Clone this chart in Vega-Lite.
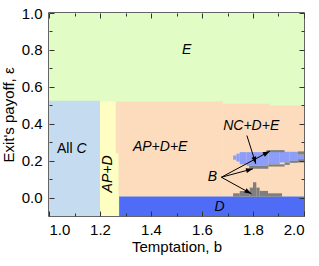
{
  "$schema": "https://vega.github.io/schema/vega-lite/v6.json",
  "width": 255,
  "height": 203,
  "autosize": {"type": "none"},
  "padding": {"left": 49, "top": 13, "right": 15, "bottom": 50},
  "background": "white",
  "config": {
    "view": {"stroke": "#333333", "strokeWidth": 1.5},
    "font": "Liberation Sans",
    "axis": {
      "labelFont": "Liberation Sans", "titleFont": "Liberation Sans",
      "labelFontSize": 15, "titleFontSize": 15, "titleFontWeight": "normal",
      "labelColor": "black", "titleColor": "black", "tickColor": "#333333",
      "grid": false, "domain": false
    }
  },
  "datasets": {
    "regions": [
      {"phase": "E", "x": 1.0, "x2": 2.0, "y": -0.1, "y2": 1.0},
      {"phase": "All C", "x": 1.0, "x2": 1.2, "y": -0.1, "y2": 0.525},
      {"phase": "AP+D", "x": 1.2, "x2": 1.273, "y": -0.1, "y2": 0.52},
      {"phase": "AP+D+E", "x": 1.262, "x2": 1.273, "y": 0.24, "y2": 0.52},
      {"phase": "AP+D+E", "x": 1.273, "x2": 1.682, "y": 0.005, "y2": 0.52},
      {"phase": "AP+D+E", "x": 1.682, "x2": 1.866, "y": 0.005, "y2": 0.508},
      {"phase": "AP+D+E", "x": 1.866, "x2": 2.0, "y": 0.005, "y2": 0.499},
      {"phase": "D", "x": 1.275, "x2": 2.0, "y": -0.1, "y2": 0.005},
      {"phase": "NC+D+E", "x": 1.722, "x2": 1.735, "y": 0.205, "y2": 0.228},
      {"phase": "NC+D+E", "x": 1.735, "x2": 1.748, "y": 0.195, "y2": 0.238},
      {"phase": "NC+D+E", "x": 1.748, "x2": 1.775, "y": 0.18, "y2": 0.246},
      {"phase": "NC+D+E", "x": 1.775, "x2": 1.86, "y": 0.172, "y2": 0.246},
      {"phase": "NC+D+E", "x": 1.86, "x2": 1.905, "y": 0.18, "y2": 0.248},
      {"phase": "NC+D+E", "x": 1.905, "x2": 1.944, "y": 0.19, "y2": 0.248},
      {"phase": "NC+D+E", "x": 1.944, "x2": 1.976, "y": 0.199, "y2": 0.248},
      {"phase": "NC+D+E", "x": 1.976, "x2": 2.0, "y": 0.208, "y2": 0.233},
      {"phase": "B", "x": 1.853, "x2": 1.924, "y": 0.246, "y2": 0.257},
      {"phase": "B", "x": 1.976, "x2": 2.0, "y": 0.233, "y2": 0.25},
      {"phase": "B", "x": 1.785, "x2": 1.86, "y": 0.156, "y2": 0.172},
      {"phase": "B", "x": 1.86, "x2": 1.924, "y": 0.168, "y2": 0.18},
      {"phase": "B", "x": 1.924, "x2": 1.944, "y": 0.177, "y2": 0.19},
      {"phase": "B", "x": 1.944, "x2": 1.976, "y": 0.188, "y2": 0.199},
      {"phase": "B", "x": 1.976, "x2": 2.0, "y": 0.19, "y2": 0.208},
      {"phase": "B", "x": 1.722, "x2": 1.748, "y": 0.005, "y2": 0.023},
      {"phase": "B", "x": 1.748, "x2": 1.787, "y": 0.005, "y2": 0.036},
      {"phase": "B", "x": 1.787, "x2": 1.8, "y": 0.005, "y2": 0.054},
      {"phase": "B", "x": 1.8, "x2": 1.813, "y": 0.005, "y2": 0.083},
      {"phase": "B", "x": 1.813, "x2": 1.826, "y": 0.005, "y2": 0.054},
      {"phase": "B", "x": 1.826, "x2": 1.859, "y": 0.005, "y2": 0.036},
      {"phase": "B", "x": 1.859, "x2": 1.914, "y": 0.005, "y2": 0.023}
    ],
    "labels": [
      {"text": "E", "b": 1.54, "e": 0.797, "kind": "i"},
      {"text": "All", "b": 1.062, "e": 0.264, "kind": "n"},
      {"text": "C", "b": 1.1275, "e": 0.264, "kind": "i"},
      {"text": "AP+D", "b": 1.232, "e": 0.128, "kind": "r"},
      {"text": "AP+D+E", "b": 1.436, "e": 0.274, "kind": "i"},
      {"text": "NC+D+E", "b": 1.793, "e": 0.39, "kind": "i"},
      {"text": "B", "b": 1.641, "e": 0.114, "kind": "i"},
      {"text": "D", "b": 1.669, "e": -0.053, "kind": "i"}
    ],
    "arrows": [
      {"id": "a0", "x": 1.776, "y": 0.336, "x2": 1.811, "y2": 0.183},
      {"id": "a1", "x": 1.676, "y": 0.11, "x2": 1.866, "y2": 0.251},
      {"id": "a2", "x": 1.676, "y": 0.11, "x2": 1.8, "y2": 0.156},
      {"id": "a3", "x": 1.676, "y": 0.11, "x2": 1.794, "y2": 0.02}
    ]
  },
  "resolve": {"axis": {"x": "independent", "y": "independent"}},
  "layer": [
    {
      "data": {"name": "regions"},
      "mark": {"type": "rect", "strokeWidth": 0},
      "encoding": {
        "x": {"field": "x", "type": "quantitative",
              "scale": {"domain": [1.0, 2.0], "nice": false, "zero": false},
              "axis": {"orient": "bottom", "values": [1.0, 1.2, 1.4, 1.6, 1.8, 2.0], "format": ".1f", "ticks": false, "labelPadding": 6, "title": "Temptation, b", "titlePadding": 2}},
        "x2": {"field": "x2"},
        "y": {"field": "y", "type": "quantitative",
              "scale": {"domain": [-0.1, 1.0], "nice": false, "zero": false},
              "axis": {"orient": "left", "values": [0.0, 0.2, 0.4, 0.6, 0.8, 1.0], "format": ".1f", "ticks": false, "labelPadding": 7, "title": "Exit's payoff, ε", "titlePadding": 5}},
        "y2": {"field": "y2"},
        "color": {"field": "phase", "type": "nominal", "legend": null,
                  "scale": {"domain": ["E", "All C", "AP+D", "AP+D+E", "D", "NC+D+E", "B"],
                            "range": ["#e2fcc6", "#c5dcf0", "#fffec2", "#fddcbd", "#4f6cf6", "#8c9ef8", "#7f7f7f"]}}
      }
    },
    {
      "data": {"name": "labels"},
      "transform": [{"filter": "datum.kind == 'i'"}],
      "mark": {"type": "text", "fontStyle": "italic", "fontSize": 14, "font": "Liberation Sans", "color": "black", "align": "center", "baseline": "middle"},
      "encoding": {
        "x": {"field": "b", "type": "quantitative", "scale": {"domain": [1.0, 2.0], "nice": false, "zero": false},
              "axis": {"orient": "bottom", "values": [1.0, 1.2, 1.4, 1.6, 1.8, 2.0], "labels": false, "title": null, "offset": -5, "tickSize": 5, "tickWidth": 1, "zindex": 1}},
        "y": {"field": "e", "type": "quantitative", "scale": {"domain": [-0.1, 1.0], "nice": false, "zero": false},
              "axis": {"orient": "left", "values": [0.0, 0.2, 0.4, 0.6, 0.8, 1.0], "labels": false, "title": null, "offset": -5, "tickSize": 5, "tickWidth": 1, "zindex": 1}},
        "text": {"field": "text"}
      }
    },
    {
      "data": {"name": "labels"},
      "transform": [{"filter": "datum.kind == 'n'"}],
      "mark": {"type": "text", "fontSize": 14, "font": "Liberation Sans", "color": "black", "align": "center", "baseline": "middle"},
      "encoding": {
        "x": {"field": "b", "type": "quantitative", "scale": {"domain": [1.0, 2.0], "nice": false, "zero": false},
              "axis": {"orient": "bottom", "values": [1.1, 1.3, 1.5, 1.7, 1.9], "labels": false, "title": null, "offset": -3, "tickSize": 3, "tickWidth": 1, "zindex": 1}},
        "y": {"field": "e", "type": "quantitative", "scale": {"domain": [-0.1, 1.0], "nice": false, "zero": false},
              "axis": {"orient": "left", "values": [0.1, 0.3, 0.5, 0.7, 0.9], "labels": false, "title": null, "offset": -3, "tickSize": 3, "tickWidth": 1, "zindex": 1}},
        "text": {"field": "text"}
      }
    },
    {
      "data": {"name": "labels"},
      "transform": [{"filter": "datum.kind == 'r'"}],
      "mark": {"type": "text", "fontStyle": "italic", "fontSize": 14, "font": "Liberation Sans", "color": "black", "align": "center", "baseline": "middle", "angle": 270},
      "encoding": {
        "x": {"field": "b", "type": "quantitative", "scale": {"domain": [1.0, 2.0], "nice": false, "zero": false},
              "axis": {"orient": "top", "values": [1.0, 1.2, 1.4, 1.6, 1.8, 2.0], "labels": false, "title": null, "offset": -5, "tickSize": 5, "tickWidth": 1, "zindex": 1}},
        "y": {"field": "e", "type": "quantitative", "scale": {"domain": [-0.1, 1.0], "nice": false, "zero": false},
              "axis": {"orient": "right", "values": [0.0, 0.2, 0.4, 0.6, 0.8, 1.0], "labels": false, "title": null, "offset": -5, "tickSize": 5, "tickWidth": 1, "zindex": 1}},
        "text": {"field": "text"}
      }
    },
    {
      "data": {"name": "arrows"},
      "mark": {"type": "rule", "color": "black", "strokeWidth": 1},
      "encoding": {
        "x": {"field": "x", "type": "quantitative", "scale": {"domain": [1.0, 2.0], "nice": false, "zero": false},
              "axis": {"orient": "top", "values": [1.1, 1.3, 1.5, 1.7, 1.9], "labels": false, "title": null, "offset": -3, "tickSize": 3, "tickWidth": 1, "zindex": 1}},
        "y": {"field": "y", "type": "quantitative", "scale": {"domain": [-0.1, 1.0], "nice": false, "zero": false},
              "axis": {"orient": "right", "values": [0.1, 0.3, 0.5, 0.7, 0.9], "labels": false, "title": null, "offset": -3, "tickSize": 3, "tickWidth": 1, "zindex": 1}},
        "x2": {"field": "x2"},
        "y2": {"field": "y2"}
      }
    },
    {
      "data": {"name": "arrows"},
      "transform": [{"filter": "datum.id == 'a0'"}],
      "mark": {"type": "point", "shape": "M0,0L0.7,2L-0.7,2Z", "filled": true, "color": "black", "opacity": 1, "size": 49, "angle": 163},
      "encoding": {
        "x": {"field": "x2", "type": "quantitative", "scale": {"domain": [1.0, 2.0], "nice": false, "zero": false}, "axis": null},
        "y": {"field": "y2", "type": "quantitative", "scale": {"domain": [-0.1, 1.0], "nice": false, "zero": false}, "axis": null}
      }
    },
    {
      "data": {"name": "arrows"},
      "transform": [{"filter": "datum.id == 'a1'"}],
      "mark": {"type": "point", "shape": "M0,0L0.7,2L-0.7,2Z", "filled": true, "color": "black", "opacity": 1, "size": 49, "angle": 62},
      "encoding": {
        "x": {"field": "x2", "type": "quantitative", "scale": {"domain": [1.0, 2.0], "nice": false, "zero": false}, "axis": null},
        "y": {"field": "y2", "type": "quantitative", "scale": {"domain": [-0.1, 1.0], "nice": false, "zero": false}, "axis": null}
      }
    },
    {
      "data": {"name": "arrows"},
      "transform": [{"filter": "datum.id == 'a2'"}],
      "mark": {"type": "point", "shape": "M0,0L0.7,2L-0.7,2Z", "filled": true, "color": "black", "opacity": 1, "size": 49, "angle": 75},
      "encoding": {
        "x": {"field": "x2", "type": "quantitative", "scale": {"domain": [1.0, 2.0], "nice": false, "zero": false}, "axis": null},
        "y": {"field": "y2", "type": "quantitative", "scale": {"domain": [-0.1, 1.0], "nice": false, "zero": false}, "axis": null}
      }
    },
    {
      "data": {"name": "arrows"},
      "transform": [{"filter": "datum.id == 'a3'"}],
      "mark": {"type": "point", "shape": "M0,0L0.7,2L-0.7,2Z", "filled": true, "color": "black", "opacity": 1, "size": 49, "angle": 119},
      "encoding": {
        "x": {"field": "x2", "type": "quantitative", "scale": {"domain": [1.0, 2.0], "nice": false, "zero": false}, "axis": null},
        "y": {"field": "y2", "type": "quantitative", "scale": {"domain": [-0.1, 1.0], "nice": false, "zero": false}, "axis": null}
      }
    }
  ]
}
